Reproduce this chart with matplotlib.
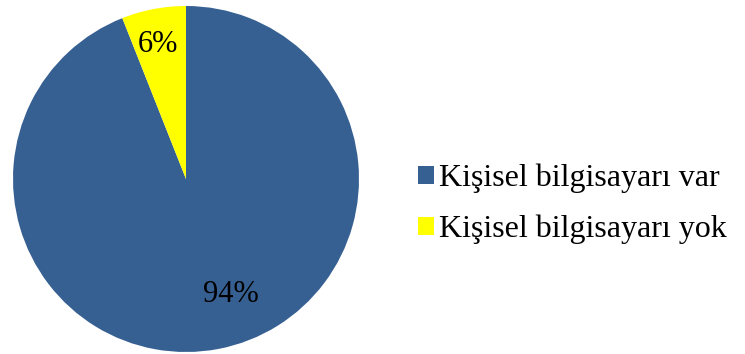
import matplotlib
matplotlib.use("Agg")
import matplotlib.pyplot as plt
from matplotlib.patches import Patch

labels = ["Kişisel bilgisayarı var", "Kişisel bilgisayarı yok"]
values = [94, 6]
colors = ["#376092", "#FFFF00"]

plt.rcParams['font.family'] = ['Liberation Serif', 'DejaVu Serif']

W, H = 745, 354
fig = plt.figure(figsize=(W/100, H/100), dpi=100)
cx, cy, r = 186, 179, 173
ax = fig.add_axes([(cx - r)/W, (H - cy - r)/H, 2*r/W, 2*r/H])
wedges, texts = ax.pie(values, colors=colors, startangle=90, counterclock=False,
                       radius=1, wedgeprops=dict(linewidth=0))
ax.set_xlim(-1, 1); ax.set_ylim(-1, 1)
ax.set_aspect('equal')
ax.axis('off')

# data labels
label_pos = [(0.26, -0.665), (-0.165, 0.78)]
for v, (x, y) in zip(values, label_pos):
    ax.text(x, y, f"{v}%", ha='center', va='center', fontsize=22, color='black')

handles = [Patch(facecolor=c, edgecolor='none') for c in colors]
fig.legend(handles, labels, loc='center left', bbox_to_anchor=(418/W, 1 - 204/H),
           frameon=False, fontsize=23, handlelength=0.5, handleheight=0.5,
           handletextpad=0.15, labelspacing=0.68, borderaxespad=0, borderpad=0)

fig.savefig("out.png", dpi=100)
